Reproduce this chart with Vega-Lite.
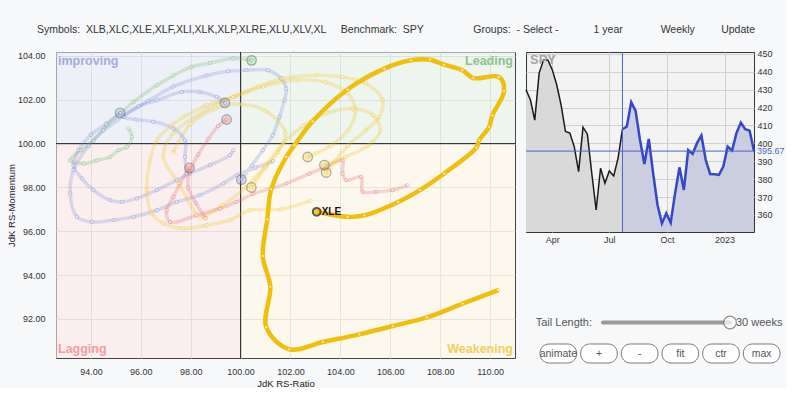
{
  "$schema": "https://vega.github.io/schema/vega-lite/v6.json",
  "background": "#f7f8fa",
  "padding": {"left": 5, "top": 24, "right": 0, "bottom": 0},
  "config": {
    "font": "Liberation Sans",
    "axis": {"labelFont": "Liberation Sans", "titleFont": "Liberation Sans", "labelFontSize": 9, "titleFontSize": 9.5, "titleFontWeight": "normal", "labelColor": "#333", "titleColor": "#222", "ticks": false, "tickSize": 0, "domain": false, "gridColor": "#cfcfcf", "labelOverlap": false},
    "view": {"stroke": "#444"},
    "title": {"font": "Liberation Sans", "fontSize": 10.5, "fontWeight": "normal", "color": "#333"}
  },
  "title": {"text": "Symbols:\u00a0\u00a0XLB,XLC,XLE,XLF,XLI,XLK,XLP,XLRE,XLU,XLV,XL\u00a0\u00a0\u00a0\u00a0\u00a0Benchmark:\u00a0\u00a0SPY\u00a0\u00a0\u00a0\u00a0\u00a0\u00a0\u00a0\u00a0\u00a0\u00a0\u00a0\u00a0\u00a0\u00a0\u00a0\u00a0\u00a0Groups:\u00a0\u00a0-\u00a0Select\u00a0-\u00a0\u00a0\u00a0\u00a0\u00a0\u00a0\u00a0\u00a0\u00a0\u00a0\u00a0\u00a01\u00a0year\u00a0\u00a0\u00a0\u00a0\u00a0\u00a0\u00a0\u00a0\u00a0\u00a0\u00a0\u00a0\u00a0Weekly\u00a0\u00a0\u00a0\u00a0\u00a0\u00a0\u00a0\u00a0\u00a0Update", "anchor": "middle", "frame": "bounds", "offset": 14},
  "datasets": {
    "trails": [
      {"s":"XLE","i":1,"x":110.33,"y":93.32},{"s":"XLE","i":2,"x":108.9,"y":92.7},{"s":"XLE","i":3,"x":107.47,"y":92.07},{"s":"XLE","i":4,"x":106.1,"y":91.68},{"s":"XLE","i":5,"x":104.76,"y":91.3},{"s":"XLE","i":6,"x":103.3,"y":90.95},{"s":"XLE","i":7,"x":101.95,"y":90.62},{"s":"XLE","i":8,"x":101.03,"y":91.62},{"s":"XLE","i":9,"x":101.19,"y":93.47},{"s":"XLE","i":10,"x":100.89,"y":94.87},{"s":"XLE","i":11,"x":101.07,"y":96.55},{"s":"XLE","i":12,"x":101.23,"y":97.92},{"s":"XLE","i":13,"x":101.83,"y":99.39},{"s":"XLE","i":14,"x":102.16,"y":99.93},{"s":"XLE","i":15,"x":102.89,"y":101.02},{"s":"XLE","i":16,"x":104.29,"y":102.47},{"s":"XLE","i":17,"x":105.76,"y":103.42},{"s":"XLE","i":18,"x":106.83,"y":103.8},{"s":"XLE","i":19,"x":107.6,"y":103.83},{"s":"XLE","i":20,"x":108.16,"y":103.6},{"s":"XLE","i":21,"x":108.89,"y":103.35},{"s":"XLE","i":22,"x":109.33,"y":102.99},{"s":"XLE","i":23,"x":110.36,"y":103.04},{"s":"XLE","i":24,"x":110.56,"y":102.4},{"s":"XLE","i":25,"x":110.09,"y":101.29},{"s":"XLE","i":26,"x":109.96,"y":100.76},{"s":"XLE","i":27,"x":109.56,"y":100.15},{"s":"XLE","i":28,"x":109.45,"y":99.82},{"s":"XLE","i":29,"x":108.16,"y":98.64},{"s":"XLE","i":30,"x":107.19,"y":97.88},{"s":"XLE","i":31,"x":106.32,"y":97.34},{"s":"XLE","i":32,"x":104.96,"y":96.73},{"s":"XLE","i":33,"x":104.29,"y":96.66},{"s":"XLE","i":34,"x":103.05,"y":96.89},
      {"s":"XLV","i":1,"x":95.51,"y":100.69},{"s":"XLV","i":2,"x":95.64,"y":100.31},{"s":"XLV","i":3,"x":95.44,"y":99.85},{"s":"XLV","i":4,"x":95.11,"y":99.7},{"s":"XLV","i":5,"x":94.77,"y":99.39},{"s":"XLV","i":6,"x":94.24,"y":99.24},{"s":"XLV","i":7,"x":93.71,"y":99.09},{"s":"XLV","i":8,"x":93.17,"y":99.24},{"s":"XLV","i":9,"x":93.6,"y":99.7},{"s":"XLV","i":10,"x":94.1,"y":100.15},{"s":"XLV","i":11,"x":94.64,"y":100.84},{"s":"XLV","i":12,"x":95.2,"y":101.4},{"s":"XLV","i":13,"x":95.71,"y":101.9},{"s":"XLV","i":14,"x":96.64,"y":102.66},{"s":"XLV","i":15,"x":97.3,"y":103.1},{"s":"XLV","i":16,"x":98.04,"y":103.5},{"s":"XLV","i":17,"x":98.77,"y":103.68},{"s":"XLV","i":18,"x":99.71,"y":103.88},{"s":"XLV","i":19,"x":100.44,"y":103.8},
      {"s":"XLK","i":1,"x":101.3,"y":99.2},{"s":"XLK","i":2,"x":100.6,"y":98.9},{"s":"XLK","i":3,"x":99.84,"y":98.56},{"s":"XLK","i":4,"x":99.31,"y":98.18},{"s":"XLK","i":5,"x":98.37,"y":97.65},{"s":"XLK","i":6,"x":97.44,"y":97.34},{"s":"XLK","i":7,"x":96.64,"y":96.96},{"s":"XLK","i":8,"x":95.71,"y":96.66},{"s":"XLK","i":9,"x":94.91,"y":96.51},{"s":"XLK","i":10,"x":94.04,"y":96.43},{"s":"XLK","i":11,"x":93.44,"y":96.66},{"s":"XLK","i":12,"x":93.17,"y":97.73},{"s":"XLK","i":13,"x":93.3,"y":98.8},{"s":"XLK","i":14,"x":93.9,"y":99.9},{"s":"XLK","i":15,"x":94.5,"y":100.6},{"s":"XLK","i":16,"x":95.3,"y":101.25},{"s":"XLK","i":17,"x":96.3,"y":101.95},{"s":"XLK","i":18,"x":97.3,"y":102.6},{"s":"XLK","i":19,"x":98.63,"y":103.1},{"s":"XLK","i":20,"x":99.5,"y":103.3},{"s":"XLK","i":21,"x":100.23,"y":103.35},{"s":"XLK","i":22,"x":101.09,"y":103.35},{"s":"XLK","i":23,"x":101.63,"y":102.97},{"s":"XLK","i":24,"x":101.83,"y":102.51},{"s":"XLK","i":25,"x":101.76,"y":101.98},{"s":"XLK","i":26,"x":101.56,"y":101.22},{"s":"XLK","i":27,"x":101.29,"y":100.38},{"s":"XLK","i":28,"x":100.89,"y":99.7},{"s":"XLK","i":29,"x":100.45,"y":99.0},{"s":"XLK","i":30,"x":100.03,"y":98.36},
      {"s":"XLC","i":1,"x":99.71,"y":99.7},{"s":"XLC","i":2,"x":99.57,"y":99.47},{"s":"XLC","i":3,"x":98.77,"y":99.02},{"s":"XLC","i":4,"x":97.97,"y":98.64},{"s":"XLC","i":5,"x":97.44,"y":98.33},{"s":"XLC","i":6,"x":96.64,"y":97.88},{"s":"XLC","i":7,"x":95.84,"y":97.5},{"s":"XLC","i":8,"x":95.24,"y":97.34},{"s":"XLC","i":9,"x":94.77,"y":97.42},{"s":"XLC","i":10,"x":94.1,"y":97.88},{"s":"XLC","i":11,"x":93.64,"y":98.41},{"s":"XLC","i":12,"x":93.3,"y":99.0},{"s":"XLC","i":13,"x":93.5,"y":99.7},{"s":"XLC","i":14,"x":94.0,"y":100.4},{"s":"XLC","i":15,"x":94.6,"y":100.9},{"s":"XLC","i":16,"x":95.17,"y":101.4},
      {"s":"XLY","i":1,"x":97.84,"y":98.63},{"s":"XLY","i":2,"x":97.77,"y":99.4},{"s":"XLY","i":3,"x":97.77,"y":100.15},{"s":"XLY","i":4,"x":97.3,"y":100.7},{"s":"XLY","i":5,"x":96.5,"y":101.0},{"s":"XLY","i":6,"x":95.8,"y":101.1},{"s":"XLY","i":7,"x":95.31,"y":101.22},{"s":"XLY","i":8,"x":95.9,"y":101.7},{"s":"XLY","i":9,"x":96.64,"y":101.98},{"s":"XLY","i":10,"x":97.64,"y":102.36},{"s":"XLY","i":11,"x":98.37,"y":102.36},{"s":"XLY","i":12,"x":99.04,"y":102.13},{"s":"XLY","i":13,"x":99.37,"y":101.86},
      {"s":"XLRE","i":1,"x":98.6,"y":96.6},{"s":"XLRE","i":2,"x":98.2,"y":97.3},{"s":"XLRE","i":3,"x":97.9,"y":98.0},{"s":"XLRE","i":4,"x":97.95,"y":98.7},{"s":"XLRE","i":5,"x":98.3,"y":99.5},{"s":"XLRE","i":6,"x":98.7,"y":100.2},{"s":"XLRE","i":7,"x":99.1,"y":100.8},{"s":"XLRE","i":8,"x":99.44,"y":101.1},
      {"s":"XLF","i":1,"x":106.69,"y":98.1},{"s":"XLF","i":2,"x":106.09,"y":97.88},{"s":"XLF","i":3,"x":105.43,"y":97.8},{"s":"XLF","i":4,"x":104.89,"y":97.8},{"s":"XLF","i":5,"x":104.83,"y":98.48},{"s":"XLF","i":6,"x":104.23,"y":98.33},{"s":"XLF","i":7,"x":104.09,"y":98.63},{"s":"XLF","i":8,"x":104.09,"y":99.24},{"s":"XLF","i":9,"x":103.43,"y":98.94},{"s":"XLF","i":10,"x":102.76,"y":98.63},{"s":"XLF","i":11,"x":101.83,"y":98.18},{"s":"XLF","i":12,"x":100.5,"y":97.7},{"s":"XLF","i":13,"x":99.84,"y":97.34},{"s":"XLF","i":14,"x":99.17,"y":97.04},{"s":"XLF","i":15,"x":98.24,"y":96.73},{"s":"XLF","i":16,"x":97.17,"y":96.43},{"s":"XLF","i":17,"x":97.04,"y":96.96},{"s":"XLF","i":18,"x":97.31,"y":97.57},{"s":"XLF","i":19,"x":97.57,"y":98.18},{"s":"XLF","i":20,"x":97.95,"y":98.89},
      {"s":"XLI","i":1,"x":102.8,"y":97.4},{"s":"XLI","i":2,"x":101.6,"y":97.0},{"s":"XLI","i":3,"x":100.37,"y":96.96},{"s":"XLI","i":4,"x":99.57,"y":96.51},{"s":"XLI","i":5,"x":98.64,"y":96.28},{"s":"XLI","i":6,"x":97.71,"y":96.13},{"s":"XLI","i":7,"x":96.91,"y":96.36},{"s":"XLI","i":8,"x":96.44,"y":96.81},{"s":"XLI","i":9,"x":96.24,"y":97.88},{"s":"XLI","i":10,"x":96.37,"y":99.24},{"s":"XLI","i":11,"x":96.64,"y":100.15},{"s":"XLI","i":12,"x":97.2,"y":100.8},{"s":"XLI","i":13,"x":97.71,"y":101.22},{"s":"XLI","i":14,"x":98.64,"y":101.75},{"s":"XLI","i":15,"x":99.71,"y":102.13},{"s":"XLI","i":16,"x":100.7,"y":102.6},{"s":"XLI","i":17,"x":101.69,"y":102.97},{"s":"XLI","i":18,"x":103.03,"y":103.12},{"s":"XLI","i":19,"x":104.09,"y":103.04},{"s":"XLI","i":20,"x":105.03,"y":102.74},{"s":"XLI","i":21,"x":105.69,"y":101.98},{"s":"XLI","i":22,"x":105.56,"y":101.22},{"s":"XLI","i":23,"x":105.03,"y":100.61},{"s":"XLI","i":24,"x":104.3,"y":99.9},{"s":"XLI","i":25,"x":103.43,"y":98.68},
      {"s":"XLP","i":1,"x":98.2,"y":96.8},{"s":"XLP","i":2,"x":97.5,"y":98.2},{"s":"XLP","i":3,"x":96.9,"y":99.4},{"s":"XLP","i":4,"x":97.29,"y":100.46},{"s":"XLP","i":5,"x":98.36,"y":101.37},{"s":"XLP","i":6,"x":99.69,"y":102.13},{"s":"XLP","i":7,"x":100.9,"y":102.6},{"s":"XLP","i":8,"x":102.2,"y":102.9},{"s":"XLP","i":9,"x":103.4,"y":102.8},{"s":"XLP","i":10,"x":104.3,"y":102.3},{"s":"XLP","i":11,"x":104.6,"y":101.5},{"s":"XLP","i":12,"x":104.3,"y":100.6},{"s":"XLP","i":13,"x":103.6,"y":99.9},{"s":"XLP","i":14,"x":102.69,"y":99.39},
      {"s":"XLU","i":1,"x":98.4,"y":96.6},{"s":"XLU","i":2,"x":99.3,"y":97.2},{"s":"XLU","i":3,"x":100.2,"y":98.0},{"s":"XLU","i":4,"x":101.0,"y":99.0},{"s":"XLU","i":5,"x":101.7,"y":100.0},{"s":"XLU","i":6,"x":102.5,"y":100.8},{"s":"XLU","i":7,"x":103.5,"y":101.4},{"s":"XLU","i":8,"x":104.5,"y":101.6},{"s":"XLU","i":9,"x":105.3,"y":101.3},{"s":"XLU","i":10,"x":105.6,"y":100.6},{"s":"XLU","i":11,"x":105.1,"y":99.9},{"s":"XLU","i":12,"x":104.2,"y":99.4},{"s":"XLU","i":13,"x":103.36,"y":99.02},
      {"s":"XLB","i":1,"x":97.3,"y":99.6},{"s":"XLB","i":2,"x":98.0,"y":100.9},{"s":"XLB","i":3,"x":99.0,"y":101.6},{"s":"XLB","i":4,"x":100.0,"y":101.8},{"s":"XLB","i":5,"x":101.0,"y":101.5},{"s":"XLB","i":6,"x":101.8,"y":100.5},{"s":"XLB","i":7,"x":101.5,"y":99.6},{"s":"XLB","i":8,"x":101.0,"y":98.9},{"s":"XLB","i":9,"x":100.43,"y":98.0}
    ],
    "spy": [
      {"i":0,"d":"2022-02-18","v":429.9},{"i":1,"d":"2022-02-25","v":424.3},{"i":2,"d":"2022-03-04","v":413.0},{"i":3,"d":"2022-03-11","v":439.2},{"i":4,"d":"2022-03-18","v":446.6},{"i":5,"d":"2022-03-25","v":446.6},{"i":6,"d":"2022-04-01","v":441.0},{"i":7,"d":"2022-04-08","v":432.7},{"i":8,"d":"2022-04-15","v":421.5},{"i":9,"d":"2022-04-22","v":406.6},{"i":10,"d":"2022-04-29","v":405.7},{"i":11,"d":"2022-05-06","v":398.2},{"i":12,"d":"2022-05-13","v":384.2},{"i":13,"d":"2022-05-20","v":409.0},{"i":14,"d":"2022-05-27","v":405.1},{"i":15,"d":"2022-06-03","v":383.3},{"i":16,"d":"2022-06-10","v":362.8},{"i":17,"d":"2022-06-17","v":386.1},{"i":18,"d":"2022-06-24","v":377.7},{"i":19,"d":"2022-07-01","v":384.6},{"i":20,"d":"2022-07-08","v":381.8},{"i":21,"d":"2022-07-15","v":391.7},{"i":22,"d":"2022-07-22","v":407.9},{"i":23,"d":"2022-07-29","v":409.4},{"i":24,"d":"2022-08-05","v":423.0},{"i":25,"d":"2022-08-12","v":418.1},{"i":26,"d":"2022-08-19","v":401.9},{"i":27,"d":"2022-08-26","v":388.5},{"i":28,"d":"2022-09-02","v":402.5},{"i":29,"d":"2022-09-09","v":383.3},{"i":30,"d":"2022-09-16","v":365.6},{"i":31,"d":"2022-09-23","v":355.3},{"i":32,"d":"2022-09-30","v":360.9},{"i":33,"d":"2022-10-07","v":355.7},{"i":34,"d":"2022-10-14","v":372.1},{"i":35,"d":"2022-10-21","v":386.6},{"i":36,"d":"2022-10-28","v":374.0},{"i":37,"d":"2022-11-04","v":396.3},{"i":38,"d":"2022-11-11","v":394.1},{"i":39,"d":"2022-11-18","v":400.1},{"i":40,"d":"2022-11-25","v":404.4},{"i":41,"d":"2022-12-02","v":390.7},{"i":42,"d":"2022-12-09","v":382.9},{"i":43,"d":"2022-12-16","v":382.7},{"i":44,"d":"2022-12-23","v":382.4},{"i":45,"d":"2022-12-30","v":387.0},{"i":46,"d":"2023-01-06","v":398.2},{"i":47,"d":"2023-01-13","v":396.0},{"i":48,"d":"2023-01-20","v":405.7},{"i":49,"d":"2023-01-27","v":411.6},{"i":50,"d":"2023-02-03","v":407.9},{"i":51,"d":"2023-02-10","v":407.1},{"i":52,"d":"2023-02-17","v":395.67}
    ]
  },
  "hconcat": [
    {
      "width": 459,
      "height": 306,
      "view": {"fill": "white", "stroke": "#444"},
      "layer": [
        {
          "data": {"values": [
            {"q":"improving","x1":80,"x2":100,"y1":100,"y2":120},
            {"q":"Leading","x1":100,"x2":120,"y1":100,"y2":120},
            {"q":"Lagging","x1":80,"x2":100,"y1":80,"y2":100},
            {"q":"Weakening","x1":100,"x2":120,"y1":80,"y2":100}
          ]},
          "mark": {"type": "rect", "clip": true, "opacity": 0.6},
          "encoding": {
            "x": {"field": "x1", "type": "quantitative", "scale": {"domain": [92.6, 111.0], "nice": false, "zero": false}, "axis": {"title": "JdK RS-Ratio", "values": [94,96,98,100,102,104,106,108,110], "format": ".2f", "grid": true, "labelPadding": 9, "titlePadding": 2}},
            "x2": {"field": "x2"},
            "y": {"field": "y1", "type": "quantitative", "scale": {"domain": [90.22, 104.18], "nice": false, "zero": false}, "axis": {"title": "JdK RS-Momentum", "values": [92,94,96,98,100,102,104], "format": ".2f", "grid": true, "labelPadding": 11, "titlePadding": 1}},
            "y2": {"field": "y2"},
            "fill": {"field": "q", "type": "nominal", "legend": null, "scale": {"domain": ["improving","Leading","Lagging","Weakening"], "range": ["#e3e6f4","#e3eee4","#f8e2e3","#fbf3e3"]}}
          }
        },
        {
          "data": {"values": [{}]},
          "mark": {"type": "text", "align": "left", "baseline": "top", "dx": 2, "dy": 3, "fontSize": 12.5, "fontWeight": "bold", "color": "#a3aae0"},
          "encoding": {"x": {"datum": 92.6, "type": "quantitative"}, "y": {"datum": 104.18, "type": "quantitative"}, "text": {"value": "improving"}}
        },
        {
          "data": {"values": [{}]},
          "mark": {"type": "text", "align": "right", "baseline": "top", "dx": -2, "dy": 3, "fontSize": 12.5, "fontWeight": "bold", "color": "#8cc490"},
          "encoding": {"x": {"datum": 111.0, "type": "quantitative"}, "y": {"datum": 104.18, "type": "quantitative"}, "text": {"value": "Leading"}}
        },
        {
          "data": {"values": [{}]},
          "mark": {"type": "text", "align": "left", "baseline": "bottom", "dx": 2, "dy": -2, "fontSize": 12.5, "fontWeight": "bold", "color": "#eea0a0"},
          "encoding": {"x": {"datum": 92.6, "type": "quantitative"}, "y": {"datum": 90.22, "type": "quantitative"}, "text": {"value": "Lagging"}}
        },
        {
          "data": {"values": [{}]},
          "mark": {"type": "text", "align": "right", "baseline": "bottom", "dx": -2, "dy": -2, "fontSize": 12.5, "fontWeight": "bold", "color": "#f0cf5c"},
          "encoding": {"x": {"datum": 111.0, "type": "quantitative"}, "y": {"datum": 90.22, "type": "quantitative"}, "text": {"value": "Weakening"}}
        },
        {
          "data": {"values": [{}]},
          "mark": {"type": "rule", "color": "#222", "strokeWidth": 1},
          "encoding": {"x": {"datum": 100, "type": "quantitative"}}
        },
        {
          "data": {"values": [{}]},
          "mark": {"type": "rule", "color": "#222", "strokeWidth": 1},
          "encoding": {"y": {"datum": 100, "type": "quantitative"}}
        },
        {
          "data": {"name": "trails"},
          "transform": [{"filter": "datum.s != 'XLE'"}],
          "mark": {"type": "line", "interpolate": "catmull-rom", "strokeWidth": 3.5, "strokeOpacity": 0.24, "clip": true},
          "encoding": {
            "x": {"field": "x", "type": "quantitative"},
            "y": {"field": "y", "type": "quantitative"},
            "order": {"field": "i", "type": "quantitative"},
            "detail": {"field": "s"},
            "stroke": {"field": "s", "type": "nominal", "legend": null, "scale": {"domain": ["XLV","XLK","XLC","XLY","XLRE","XLF","XLI","XLP","XLU","XLB"], "range": ["#5cb85c","#7080d8","#7080d8","#7080d8","#e05a5a","#e05a5a","#f0c000","#f0c000","#f0c000","#f0c000"]}}
          }
        },
        {
          "data": {"name": "trails"},
          "transform": [{"filter": "datum.s != 'XLE'"}],
          "mark": {"type": "point", "shape": "circle", "filled": true, "fill": "white", "fillOpacity": 0.4, "size": 12, "strokeWidth": 1, "strokeOpacity": 0.35},
          "encoding": {
            "x": {"field": "x", "type": "quantitative"},
            "y": {"field": "y", "type": "quantitative"},
            "stroke": {"field": "s", "type": "nominal", "legend": null}
          }
        },
        {
          "data": {"name": "trails"},
          "transform": [
            {"filter": "datum.s != 'XLE'"},
            {"joinaggregate": [{"op": "max", "field": "i", "as": "imax"}], "groupby": ["s"]},
            {"filter": "datum.i == datum.imax"}
          ],
          "mark": {"type": "point", "shape": "circle", "filled": true, "size": 90, "stroke": "#555", "strokeWidth": 1.3, "strokeOpacity": 0.45, "fillOpacity": 0.2},
          "encoding": {
            "x": {"field": "x", "type": "quantitative"},
            "y": {"field": "y", "type": "quantitative"},
            "color": {"field": "s", "type": "nominal", "legend": null, "scale": {"domain": ["XLV","XLK","XLC","XLY","XLRE","XLF","XLI","XLP","XLU","XLB"], "range": ["#5cb85c","#7080d8","#7080d8","#7080d8","#e05a5a","#e05a5a","#f0c000","#f0c000","#f0c000","#f0c000"]}}
          }
        },
        {
          "data": {"name": "trails"},
          "transform": [{"filter": "datum.s == 'XLE'"}],
          "mark": {"type": "line", "interpolate": "catmull-rom", "strokeWidth": 4.5, "color": "#efbf0c", "clip": true},
          "encoding": {
            "x": {"field": "x", "type": "quantitative"},
            "y": {"field": "y", "type": "quantitative"},
            "order": {"field": "i", "type": "quantitative"}
          }
        },
        {
          "data": {"name": "trails"},
          "transform": [{"filter": "datum.s == 'XLE'"}],
          "mark": {"type": "point", "shape": "circle", "filled": true, "fill": "white", "stroke": "#efbf0c", "strokeWidth": 1, "size": 10},
          "encoding": {
            "x": {"field": "x", "type": "quantitative"},
            "y": {"field": "y", "type": "quantitative"}
          }
        },
        {
          "data": {"name": "trails"},
          "transform": [
            {"filter": "datum.s == 'XLE'"},
            {"joinaggregate": [{"op": "max", "field": "i", "as": "imax"}], "groupby": ["s"]},
            {"filter": "datum.i == datum.imax"}
          ],
          "layer": [
            {
              "mark": {"type": "point", "shape": "circle", "filled": true, "fill": "#f0c000", "stroke": "#111", "strokeWidth": 2, "size": 60},
              "encoding": {"x": {"field": "x", "type": "quantitative"}, "y": {"field": "y", "type": "quantitative"}}
            },
            {
              "mark": {"type": "text", "align": "left", "baseline": "middle", "dx": 5, "fontSize": 10, "fontWeight": "bold", "color": "#111"},
              "encoding": {"x": {"field": "x", "type": "quantitative"}, "y": {"field": "y", "type": "quantitative"}, "text": {"field": "s"}}
            }
          ]
        }
      ]
    },
    {
      "spacing": 0,
      "vconcat": [
        {
          "width": 228,
          "height": 180,
          "view": {"fill": "#f3f3f3", "stroke": "#333"},
          "layer": [
            {
              "data": {"name": "spy"},
              "mark": {"type": "area", "color": "#d9d9d9", "clip": true},
              "encoding": {
                "x": {"field": "d", "type": "temporal", "scale": {"type": "utc", "nice": false}, "axis": {"title": null, "tickCount": {"interval": "month", "step": 3}, "labelExpr": "utcmonth(datum.value) == 0 ? utcFormat(datum.value, '%Y') : utcFormat(datum.value, '%b')", "grid": true, "labelPadding": 3}},
                "y": {"field": "v", "type": "quantitative", "scale": {"domain": [350.5, 451], "nice": false, "zero": false}, "axis": {"title": null, "orient": "right", "values": [360,370,380,390,400,410,420,430,440,450], "grid": true, "labelPadding": 3, "labelOverlap": false}},
                "y2": {"datum": 350.5}
              }
            },
            {
              "data": {"name": "spy"},
              "transform": [{"filter": "datum.i >= 22"}],
              "mark": {"type": "area", "color": "#cbcde0", "clip": true},
              "encoding": {"x": {"field": "d", "type": "temporal"}, "y": {"field": "v", "type": "quantitative", "axis": {"title": null, "orient": "right", "values": [360,370,380,390,400,410,420,430,440,450], "grid": true, "labelPadding": 3, "labelOverlap": false}}, "y2": {"datum": 350.5}}
            },
            {
              "data": {"name": "spy"},
              "transform": [{"filter": "datum.i <= 22"}],
              "mark": {"type": "line", "color": "#1a1a1a", "strokeWidth": 1.5},
              "encoding": {"x": {"field": "d", "type": "temporal"}, "y": {"field": "v", "type": "quantitative", "axis": {"title": null, "orient": "right", "values": [360,370,380,390,400,410,420,430,440,450], "grid": true, "labelPadding": 3, "labelOverlap": false}}}
            },
            {
              "data": {"name": "spy"},
              "transform": [{"filter": "datum.i >= 22"}],
              "mark": {"type": "line", "color": "#3546c8", "strokeWidth": 2.5},
              "encoding": {"x": {"field": "d", "type": "temporal"}, "y": {"field": "v", "type": "quantitative", "axis": {"title": null, "orient": "right", "values": [360,370,380,390,400,410,420,430,440,450], "grid": true, "labelPadding": 3, "labelOverlap": false}}}
            },
            {
              "data": {"values": [{}]},
              "mark": {"type": "rule", "color": "#5060d0", "strokeWidth": 1},
              "encoding": {"y": {"datum": 395.67, "type": "quantitative", "axis": {"title": null, "orient": "right", "values": [360,370,380,390,400,410,420,430,440,450], "grid": true, "labelPadding": 3, "labelOverlap": false}}}
            },
            {
              "data": {"values": [{}]},
              "mark": {"type": "rule", "color": "#5060d0", "strokeWidth": 1},
              "encoding": {"x": {"datum": {"year": 2022, "month": 7, "date": 22, "utc": true}, "type": "temporal"}}
            },
            {
              "data": {"values": [{}]},
              "mark": {"type": "text", "align": "left", "baseline": "middle", "dx": 3, "fontSize": 9, "color": "#5060d0"},
              "encoding": {"x": {"datum": {"year": 2023, "month": 2, "date": 17, "utc": true}, "type": "temporal"}, "y": {"datum": 395.67, "type": "quantitative", "axis": {"title": null, "orient": "right", "values": [360,370,380,390,400,410,420,430,440,450], "grid": true, "labelPadding": 3, "labelOverlap": false}}, "text": {"value": "395.67"}}
            },
            {
              "data": {"values": [{}]},
              "mark": {"type": "text", "align": "left", "baseline": "top", "dx": 4, "dy": 2, "fontSize": 13, "fontWeight": "bold", "color": "#a5a5a5"},
              "encoding": {"x": {"datum": {"year": 2022, "month": 2, "date": 18, "utc": true}, "type": "temporal"}, "y": {"datum": 451, "type": "quantitative", "axis": {"title": null, "orient": "right", "values": [360,370,380,390,400,410,420,430,440,450], "grid": true, "labelPadding": 3, "labelOverlap": false}}, "text": {"value": "SPY"}}
            }
          ]
        },
        {
          "width": 260,
          "height": 124,
          "view": {"stroke": null},
          "resolve": {"scale": {"x": "independent"}},
          "layer": [
            {
              "data": {"values": [{"row": "tail", "setting": "Tail Length:", "lo": 1, "weeks": 30, "label": "30 weeks"}]},
              "layer": [
                {
                  "mark": {"type": "rule", "color": "#9a9a9a", "strokeWidth": 4, "strokeCap": "round"},
                  "encoding": {
                    "x": {"field": "lo", "type": "quantitative", "scale": {"domain": [1, 30], "range": [77, 204]}, "axis": null},
                    "x2": {"field": "weeks"},
                    "y": {"field": "row", "type": "nominal", "scale": {"domain": ["a", "b", "tail", "btn"]}, "axis": null}
                  }
                },
                {
                  "mark": {"type": "point", "shape": "circle", "filled": true, "fill": "white", "stroke": "#666", "strokeWidth": 1.2, "size": 160},
                  "encoding": {
                    "x": {"field": "weeks", "type": "quantitative", "scale": {"domain": [1, 30], "range": [77, 204]}, "axis": null},
                    "y": {"field": "row", "type": "nominal", "scale": {"domain": ["a", "b", "tail", "btn"]}, "axis": null}
                  }
                },
                {
                  "mark": {"type": "text", "align": "left", "baseline": "middle", "dx": 6, "fontSize": 11, "color": "#555"},
                  "encoding": {
                    "x": {"field": "weeks", "type": "quantitative", "scale": {"domain": [1, 30], "range": [77, 204]}, "axis": null},
                    "y": {"field": "row", "type": "nominal", "scale": {"domain": ["a", "b", "tail", "btn"]}, "axis": null},
                    "text": {"field": "label"}
                  }
                },
                {
                  "mark": {"type": "text", "align": "right", "baseline": "middle", "dx": -11, "fontSize": 11, "color": "#555"},
                  "encoding": {
                    "x": {"field": "lo", "type": "quantitative", "scale": {"domain": [1, 30], "range": [77, 204]}, "axis": null},
                    "y": {"field": "row", "type": "nominal", "scale": {"domain": ["a", "b", "tail", "btn"]}, "axis": null},
                    "text": {"field": "setting"}
                  }
                }
              ]
            },
            {
              "data": {"values": [{"row": "btn", "b": "animate"}, {"row": "btn", "b": "+"}, {"row": "btn", "b": "-"}, {"row": "btn", "b": "fit"}, {"row": "btn", "b": "ctr"}, {"row": "btn", "b": "max"}]},
              "layer": [
                {
                  "mark": {"type": "rect", "cornerRadius": 9, "height": 19, "fill": "white", "stroke": "#7a7a7a", "strokeWidth": 1},
                  "encoding": {
                    "x": {"field": "b", "type": "nominal", "sort": null, "scale": {"domain": ["animate", "+", "-", "fit", "ctr", "max"], "range": [14, 254], "paddingInner": 0.1, "paddingOuter": 0}, "axis": null},
                    "y": {"field": "row", "type": "nominal", "scale": {"domain": ["a", "b", "tail", "btn"]}, "axis": null}
                  }
                },
                {
                  "mark": {"type": "text", "align": "center", "baseline": "middle", "fontSize": 10.5, "color": "#555"},
                  "encoding": {
                    "x": {"field": "b", "type": "nominal", "sort": null, "scale": {"domain": ["animate", "+", "-", "fit", "ctr", "max"], "range": [14, 254], "paddingInner": 0.1, "paddingOuter": 0}, "axis": null},
                    "y": {"field": "row", "type": "nominal", "scale": {"domain": ["a", "b", "tail", "btn"]}, "axis": null},
                    "text": {"field": "b"}
                  }
                }
              ]
            }
          ]
        }
      ]
    }
  ],
  "spacing": 6
}
